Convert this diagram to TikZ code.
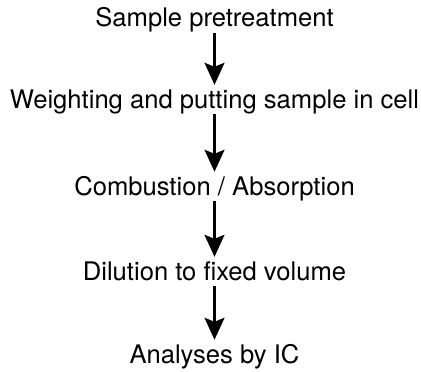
\documentclass[tikz,border=0pt]{standalone}
\usepackage{fontspec}
\setmainfont{TeX Gyre Heros}
\usetikzlibrary{arrows.meta}
\tikzset{
  stepline/.style={inner sep=0pt, anchor=base, text height=18pt, text depth=5pt,
                   font=\fontsize{25.6}{30}\selectfont},
  flowarrow/.style={line width=2.2pt, -{Stealth[length=22pt,width=20pt,inset=4pt]},
                    shorten <=1pt, shorten >=5pt}
}
\begin{document}
\begin{tikzpicture}[x=1pt,y=-1pt]
  \useasboundingbox (0,0) rectangle (421,372);

  % Marking the steps
  \node[stepline] (pretreat) at (214.5,27) {Sample pretreatment};
  \node[stepline] (weigh) at (214.5,108) {Weighting and putting sample in cell};
  \node[stepline] (combust) at (214.5,195) {Combustion / Absorption};
  \node[stepline] (dilute) at (214.5,280) {Dilution to fixed volume};
  \node[stepline] (analyse) at (214.5,363) {Analyses by IC};

  % Drawing the arrows
  \draw[flowarrow] (pretreat) -- (weigh);
  \draw[flowarrow] (weigh) -- (combust);
  \draw[flowarrow] (combust) -- (dilute);
  \draw[flowarrow] (dilute) -- (analyse);
\end{tikzpicture}
\end{document}
